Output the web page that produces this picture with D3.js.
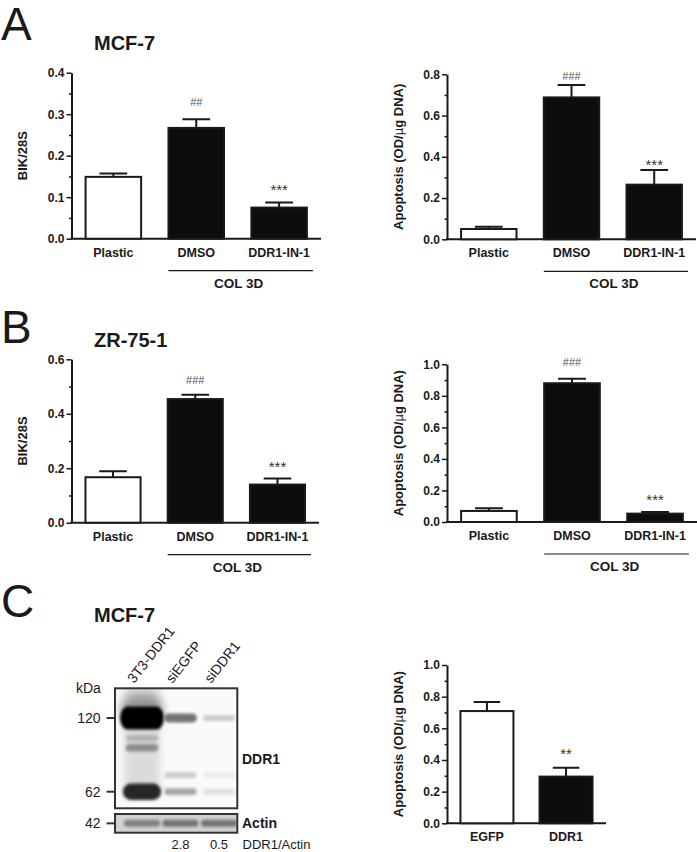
<!DOCTYPE html>
<html>
<head>
<meta charset="utf-8">
<script src="https://cdn.jsdelivr.net/npm/d3@7"></script>
<style>
body { margin: 0; background: #fff; }
svg { display: block; font-family: "Liberation Sans", Arial, sans-serif; }
</style>
</head>
<body>
<div id="fig"></div>
<script>
const W = 697, H = 852;

// groups
const groupsCol = ["Plastic", "DMSO", "DDR1-IN-1"];
const groupsSi = ["EGFP", "DDR1"];

// MCF-7 (A)
const bikMcf7 = [0.149, 0.267, 0.075];
const bikMcf7Err = [0.008, 0.021, 0.012];
const apoMcf7 = [0.050, 0.688, 0.265];
const apoMcf7Err = [0.011, 0.060, 0.071];
// ZR-75-1 (B)
const bikZr = [0.167, 0.454, 0.140];
const bikZrErr = [0.022, 0.016, 0.022];
const apoZr = [0.070, 0.880, 0.053];
const apoZrErr = [0.017, 0.029, 0.010];
// siRNA, MCF-7 (C)
const apoSi = [0.709, 0.295];
const apoSiErr = [0.057, 0.056];

// significance marks
const notesA1 = ["", "##", "***"];
const notesA2 = ["", "###", "***"];
const notesB1 = ["", "###", "***"];
const notesB2 = ["", "###", "***"];
const notesC = ["", "**"];

// western blot
const lanes = ["3T3-DDR1", "siEGFP", "siDDR1"];
const markerKda = [120, 62];
const actinKda = 42;
const bandKda = [120, 100, 92, 72, 62];
const bandLevels = [
    [1.00, 0.55, 0.20],
    [0.30, 0.00, 0.00],
    [0.45, 0.00, 0.00],
    [0.00, 0.20, 0.08],
    [0.85, 0.35, 0.12]
];
const actinLevels = [0.50, 0.55, 0.55];
const ratios = ["", "2.8", "0.5"];

const svg = d3.select("#fig")
    .append("svg")
    .attr("width", W)
    .attr("height", H);

const defs = svg.append("defs");
defs.append("filter").attr("id", "blur")
    .attr("x", "-50%").attr("y", "-50%").attr("width", "200%").attr("height", "200%")
    .append("feGaussianBlur").attr("stdDeviation", 1.6);
defs.append("filter").attr("id", "blurBig")
    .attr("x", "-50%").attr("y", "-50%").attr("width", "200%").attr("height", "200%")
    .append("feGaussianBlur").attr("stdDeviation", 4);

const ink = "#1a1a1a";

// panel letters + titles
[["A", 40], ["B", 343], ["C", 617]].forEach(function(p) {
    svg.append("text").attr("x", 1).attr("y", p[1])
        .attr("font-size", 46).attr("fill", ink).text(p[0]);
});
[["MCF-7", 50], ["ZR-75-1", 346.5], ["MCF-7", 621.5]].forEach(function(t) {
    svg.append("text").attr("x", 94).attr("y", t[1])
        .attr("font-size", 20).attr("font-weight", "bold").attr("fill", ink).text(t[0]);
});

const charts = [
    { g: groupsCol, v: bikMcf7, e: bikMcf7Err, n: notesA1, max: 0.4, step: 0.1,
      x0: 71.5, x1: 321, yb: 238.7, yt: 72.7, gap: 16.5, label: "BIK/28S", col: true },
    { g: groupsCol, v: apoMcf7, e: apoMcf7Err, n: notesA2, max: 0.8, step: 0.2,
      x0: 447, x1: 696, yb: 239.3, yt: 74.3, gap: 9, label: "apo", col: true },
    { g: groupsCol, v: bikZr, e: bikZrErr, n: notesB1, max: 0.6, step: 0.2,
      x0: 71.5, x1: 319, yb: 522.7, yt: 359.3, gap: 15, label: "BIK/28S", col: true },
    { g: groupsCol, v: apoZr, e: apoZrErr, n: notesB2, max: 1.0, step: 0.2,
      x0: 447, x1: 697, yb: 522, yt: 364.3, gap: 16, label: "apo", col: true },
    { g: groupsSi, v: apoSi, e: apoSiErr, n: notesC, max: 1.0, step: 0.2,
      x0: 447, x1: 606, yb: 823.3, yt: 665, gap: 17.5, label: "apo", col: false }
];

charts.forEach(drawChart);

function drawChart(c) {
    const g = svg.append("g");

    const x = d3.scaleBand()
        .domain(c.g)
        .range([c.x0, c.x1])
        .paddingInner(0.33)
        .paddingOuter(0.17);
    const y = d3.scaleLinear()
        .domain([0, c.max])
        .range([c.yb, c.yt]);
    const bw = x.bandwidth();

    // minor ticks
    g.append("g")
        .attr("transform", "translate(" + c.x0 + ",0)")
        .call(d3.axisLeft(y).tickValues(d3.range(c.step / 2, c.max, c.step)).tickFormat("").tickSize(2.5).tickSizeOuter(0))
        .call(function(s) { s.select(".domain").remove(); })
        .selectAll("line").attr("stroke", ink).attr("stroke-width", 1.5);

    const ya = g.append("g")
        .attr("transform", "translate(" + c.x0 + ",0)")
        .call(d3.axisLeft(y)
            .tickValues(d3.range(0, c.max + 1e-9, c.step))
            .tickFormat(d3.format(".1f"))
            .tickSize(5).tickSizeOuter(0).tickPadding(2));
    ya.select(".domain").attr("stroke", ink).attr("stroke-width", 2);
    ya.selectAll(".tick line").attr("stroke", ink).attr("stroke-width", 1.5);
    ya.selectAll(".tick text")
        .attr("font-family", "Liberation Sans, Arial, sans-serif")
        .attr("font-size", 12).attr("font-weight", "bold").attr("fill", ink);

    // x axis baseline
    g.append("line")
        .attr("x1", c.x0 - 1).attr("x2", c.x1)
        .attr("y1", c.yb).attr("y2", c.yb)
        .attr("stroke", ink).attr("stroke-width", 2);

    const data = c.g.map(function(k, i) { return { k: k, v: c.v[i], e: c.e[i], n: c.n[i], i: i }; });

    // error bars (upper only)
    g.selectAll(".err").data(data).enter().append("path")
        .attr("d", function(d) {
            const cx = x(d.k) + bw / 2;
            return "M" + cx + "," + y(d.v) + "V" + y(d.v + d.e) +
                "M" + (cx - bw / 4) + "," + y(d.v + d.e) + "H" + (cx + bw / 4);
        })
        .attr("fill", "none").attr("stroke", ink).attr("stroke-width", 2);

    g.selectAll(".bar").data(data).enter().append("rect")
        .attr("x", function(d) { return x(d.k); })
        .attr("y", function(d) { return y(d.v); })
        .attr("width", bw)
        .attr("height", function(d) { return c.yb - y(d.v); })
        .attr("fill", function(d) { return d.i === 0 ? "#fff" : "#0d0d0d"; })
        .attr("stroke", ink).attr("stroke-width", 2);

    // significance marks
    g.selectAll(".note").data(data.filter(function(d) { return d.n; })).enter().append("text")
        .attr("x", function(d) { return x(d.k) + bw / 2; })
        .attr("y", function(d) {
            const hash = d.n[0] === "#";
            return y(d.v + d.e) - c.gap + (hash ? 3.8 : 8.7);
        })
        .attr("text-anchor", "middle")
        .attr("font-size", function(d) { return d.n[0] === "#" ? 11 : 15; })
        .attr("fill", function(d) { return d.n[0] === "#" ? "#555" : "#333"; })
        .text(function(d) { return d.n; });

    // category labels
    g.selectAll(".cat").data(data).enter().append("text")
        .attr("x", function(d) { return x(d.k) + bw / 2; })
        .attr("y", c.yb + 18)
        .attr("text-anchor", "middle")
        .attr("font-size", 12.5).attr("font-weight", "bold").attr("fill", ink)
        .text(function(d) { return d.k; });

    // y label
    const yl = g.append("text")
        .attr("transform", "translate(" + (c.x0 - 44.5) + "," + ((c.yb + c.yt) / 2) + ") rotate(-90)")
        .attr("text-anchor", "middle")
        .attr("font-size", 13).attr("font-weight", "bold").attr("fill", ink);
    if (c.label === "apo") {
        yl.append("tspan").text("Apoptosis (OD/");
        yl.append("tspan").attr("font-weight", "normal").text("µ");
        yl.append("tspan").text("g DNA)");
    } else {
        yl.text(c.label);
    }

    // COL 3D bracket
    if (c.col) {
        const a = x(c.g[1]), b = x(c.g[2]) + bw + 6;
        g.append("line")
            .attr("x1", a).attr("x2", b)
            .attr("y1", c.yb + 32).attr("y2", c.yb + 32)
            .attr("stroke", ink).attr("stroke-width", 1.2);
        g.append("text")
            .attr("x", (a + b) / 2 - 2).attr("y", c.yb + 49)
            .attr("text-anchor", "middle")
            .attr("font-size", 13.5).attr("font-weight", "bold").attr("fill", ink)
            .text("COL 3D");
    }
}

// ---- western blot ----
const lx = d3.scalePoint().domain(lanes).range([142, 219]);
const ky = d3.scaleLog().domain([120, 62]).range([718, 791.7]);
const shade = d3.interpolateRgb("#ffffff", "#000000");
const box = { x: 115, y: 688.3, w: 122.3, h: 120 };
const abox = { x: 115, y: 814, w: 122.3, h: 18.7 };

defs.append("clipPath").attr("id", "clipMain")
    .append("rect").attr("x", box.x).attr("y", box.y).attr("width", box.w).attr("height", box.h);
defs.append("clipPath").attr("id", "clipActin")
    .append("rect").attr("x", abox.x).attr("y", abox.y).attr("width", abox.w).attr("height", abox.h);

const blot = svg.append("g");
blot.append("rect").attr("x", box.x).attr("y", box.y).attr("width", box.w).attr("height", box.h)
    .attr("fill", "#fafafa");

const bands = blot.append("g").attr("clip-path", "url(#clipMain)");
// smear in the overexpressing lane
bands.append("rect")
    .attr("x", lx(lanes[0]) - 18).attr("y", box.y - 4).attr("width", 36).attr("height", 110)
    .attr("fill", "#000").attr("opacity", 0.12).attr("filter", "url(#blurBig)");
bands.append("ellipse")
    .attr("cx", lx(lanes[0])).attr("cy", ky(120) - 10).attr("rx", 22).attr("ry", 14)
    .attr("fill", "#000").attr("opacity", 0.3).attr("filter", "url(#blurBig)");

bandKda.forEach(function(kda, r) {
    lanes.forEach(function(lane, l) {
        const lev = bandLevels[r][l];
        if (!lev) return;
        const w = 32 + 12 * Math.pow(lev, 4), h = 6 + 17 * Math.pow(lev, 3);
        bands.append("rect")
            .attr("x", lx(lane) - w / 2).attr("y", ky(kda) - h / 2)
            .attr("width", w).attr("height", h)
            .attr("rx", Math.min(h / 2, 8)).attr("ry", h / 2)
            .attr("fill", shade(lev))
            .attr("filter", "url(#blur)");
    });
});

blot.append("rect").attr("x", box.x).attr("y", box.y).attr("width", box.w).attr("height", box.h)
    .attr("fill", "none").attr("stroke", "#333").attr("stroke-width", 2);

// actin strip
blot.append("rect").attr("x", abox.x).attr("y", abox.y).attr("width", abox.w).attr("height", abox.h)
    .attr("fill", "#d2d2d2");
const ab = blot.append("g").attr("clip-path", "url(#clipActin)");
lanes.forEach(function(lane, l) {
    ab.append("rect")
        .attr("x", lx(lane) - 18).attr("y", abox.y + abox.h / 2 - 3.5)
        .attr("width", 36).attr("height", 7).attr("rx", 3)
        .attr("fill", shade(actinLevels[l]))
        .attr("filter", "url(#blur)");
});
blot.append("rect").attr("x", abox.x).attr("y", abox.y).attr("width", abox.w).attr("height", abox.h)
    .attr("fill", "none").attr("stroke", "#333").attr("stroke-width", 2);

// markers
const mk = markerKda.map(function(k) { return { k: k, y: ky(k) }; })
    .concat([{ k: actinKda, y: abox.y + abox.h / 2 }]);
blot.selectAll(".mk").data(mk).enter().append("line")
    .attr("x1", 106.5).attr("x2", box.x)
    .attr("y1", function(d) { return d.y; }).attr("y2", function(d) { return d.y; })
    .attr("stroke", "#333").attr("stroke-width", 2);
blot.selectAll(".mkt").data(mk).enter().append("text")
    .attr("x", 100.5).attr("y", function(d) { return d.y + 5; })
    .attr("text-anchor", "end")
    .attr("font-size", 14).attr("fill", ink)
    .text(function(d) { return d.k; });
blot.append("text").attr("x", 76).attr("y", 693)
    .attr("font-size", 14).attr("fill", ink).text("kDa");

// lane labels
blot.selectAll(".lane").data(lanes).enter().append("text")
    .attr("transform", function(d) { return "translate(" + (lx(d) - 8) + ",684) rotate(-52)"; })
    .attr("font-size", 14).attr("fill", ink)
    .text(function(d) { return d; });

blot.append("text").attr("x", 242).attr("y", 763.5)
    .attr("font-size", 14).attr("font-weight", "bold").attr("fill", ink).text("DDR1");
blot.append("text").attr("x", 242).attr("y", abox.y + abox.h / 2 + 5)
    .attr("font-size", 14).attr("font-weight", "bold").attr("fill", ink).text("Actin");

blot.selectAll(".ratio").data(ratios).enter().append("text")
    .attr("x", function(d, i) { return lx(lanes[i]); })
    .attr("y", 849)
    .attr("text-anchor", "middle")
    .attr("font-size", 13).attr("fill", ink)
    .text(function(d) { return d; });
blot.append("text").attr("x", 242.5).attr("y", 849)
    .attr("font-size", 13).attr("fill", ink).text("DDR1/Actin");
</script>
</body>
</html>
